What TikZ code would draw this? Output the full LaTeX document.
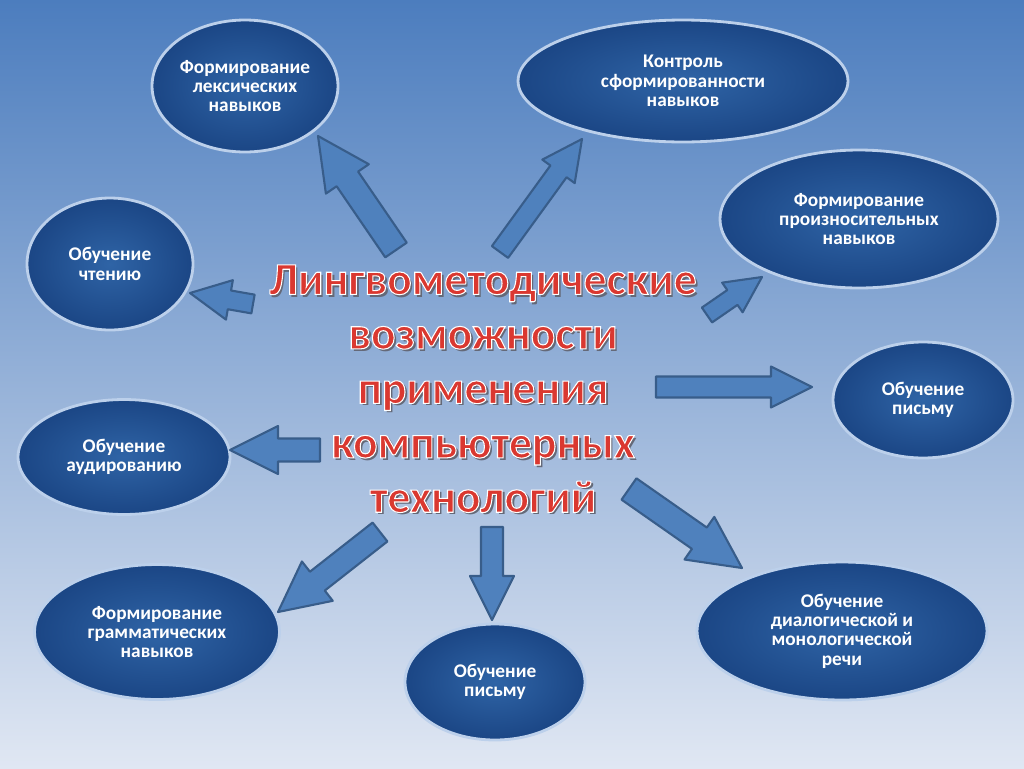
\documentclass[tikz,border=0pt]{standalone}
\usepackage{fontspec}
\setmainfont{Carlito}
\usepackage{xcolor}
\usepackage{tikz}
\usetikzlibrary{calc, shapes.geometric}

\definecolor{bgtop}{RGB}{76,125,190}
\definecolor{bgmid}{RGB}{168,193,226}
\definecolor{bgbot}{RGB}{224,231,243}
\definecolor{ovalfill}{RGB}{47,100,166}
\definecolor{ovaldark}{RGB}{27,70,133}
\definecolor{ovalrim}{RGB}{188,208,235}
\definecolor{arrfill}{RGB}{79,129,189}
\definecolor{arrline}{RGB}{56,93,138}
\definecolor{titlered}{RGB}{218,56,48}
\definecolor{titleshade}{RGB}{100,105,120}

\newcommand{\rimtext}[1]{\leavevmode
	\rlap{\kern1.5pt\raisebox{-1.5pt}{\color{titleshade}#1}}%
	{\color{titlered}\special{pdf:literal direct 2 Tr 0.6 w 1 1 1 RG}#1\special{pdf:literal direct 0 Tr}}}

\newcommand{\bigarrow}[4]{%
	\draw [barrow] let \p1 = ($(#2)-(#1)$), \n1 = {atan2(\y1,\x1)}, \p2 = ($(#2)+({\n1+180}:{2*#4*0.02cm})$) in
		($(#1)+({\n1+90}:{#3*0.02cm})$) -- ($(\p2)+({\n1+90}:{#3*0.02cm})$) -- ($(\p2)+({\n1+90}:{#4*0.02cm})$) -- (#2)
		-- ($(\p2)+({\n1-90}:{#4*0.02cm})$) -- ($(\p2)+({\n1-90}:{#3*0.02cm})$) -- ($(#1)+({\n1-90}:{#3*0.02cm})$) -- cycle;}

\tikzset{
	oval/.style = {ellipse, inner sep = 0pt, draw = ovalrim, line width = 1.6pt, inner color = ovalfill, outer color = ovaldark, text = white, font = \bfseries\fontsize{11}{11}\selectfont, align = center},
	barrow/.style = {fill = arrfill, draw = arrline, line width = 1.2pt, line join = round},
	titletext/.style = {inner sep = 0pt, align = center, font = \bfseries\fontsize{26}{31}\selectfont}
}

\begin{document}
\begin{tikzpicture}[x = 0.02cm, y = -0.02cm]
			\useasboundingbox (0,0) rectangle (1024,768);
			\shade [top color = bgtop, middle color = bgmid, bottom color = bgbot] (0,0) rectangle (1024,768);

			\begin{scope}
				\node [oval, minimum width = 3.72cm, minimum height = 2.64cm] (lexis) at (245,86) {Формирование\\лексических\\навыков};
				\node [oval, minimum width = 6.6cm, minimum height = 2.44cm] (control) at (683,81) {Контроль\\сформированности\\навыков};
				\node [oval, minimum width = 5.56cm, minimum height = 2.76cm] (pronounce) at (859,219) {Формирование\\произносительных\\навыков};
				\node [oval, minimum width = 3.32cm, minimum height = 2.64cm] (reading) at (110,264) {Обучение\\чтению};
				\node [oval, minimum width = 3.6cm, minimum height = 2.32cm] (writingR) at (923,400) {Обучение\\письму};
				\node [oval, minimum width = 4.24cm, minimum height = 2.3cm] (listening) at (124,457) {Обучение\\аудированию};
				\node [oval, minimum width = 4.9cm, minimum height = 2.7cm] (grammar) at (157,632) {Формирование\\грамматических\\навыков};
				\node [oval, minimum width = 3.6cm, minimum height = 2.32cm] (writingB) at (495,682) {Обучение\\письму};
				\node [oval, minimum width = 5.8cm, minimum height = 2.76cm] (speech) at (842,631) {Обучение\\диалогической и\\монологической\\речи};
			\end{scope}

			\node [titletext] (title) at (483,390) {\rimtext{Лингвометодические}\\\rimtext{возможности}\\\rimtext{применения}\\\rimtext{компьютерных}\\\rimtext{технологий}};

			\coordinate (lexisT) at (396,250);
			\coordinate (lexisH) at (318,136);
			\coordinate (controlT) at (500,252);
			\coordinate (controlH) at (582,139);
			\coordinate (pronounceT) at (707,315);
			\coordinate (pronounceH) at (762,277);
			\coordinate (readingT) at (253,304);
			\coordinate (readingH) at (190,293);
			\coordinate (writingRT) at (656,387);
			\coordinate (writingRH) at (812,387);
			\coordinate (listeningT) at (320,450);
			\coordinate (listeningH) at (230,450);
			\coordinate (grammarT) at (380,532);
			\coordinate (grammarH) at (278,612);
			\coordinate (writingBT) at (492,527);
			\coordinate (writingBH) at (492,620);
			\coordinate (speechT) at (629,489);
			\coordinate (speechH) at (742,568);

			\begin{scope}
				\bigarrow{lexisT}{lexisH}{13}{26}
				\bigarrow{controlT}{controlH}{10}{20}
				\bigarrow{pronounceT}{pronounceH}{9}{18}
				\bigarrow{readingT}{readingH}{9.5}{20}
				\bigarrow{writingRT}{writingRH}{10.5}{20.5}
				\bigarrow{listeningT}{listeningH}{11.5}{24}
				\bigarrow{grammarT}{grammarH}{12}{25}
				\bigarrow{writingBT}{writingBH}{11}{22}
				\bigarrow{speechT}{speechH}{13}{26}
			\end{scope}
		\end{tikzpicture}
\end{document}
